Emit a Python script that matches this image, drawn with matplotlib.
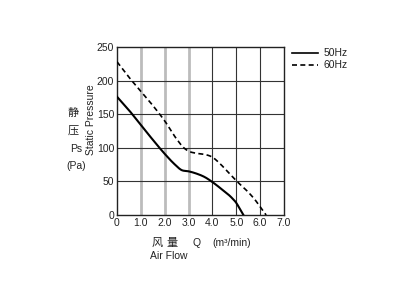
import matplotlib
matplotlib.use("Agg")
import matplotlib.pyplot as plt
import numpy as np

plt.rcParams['font.family'] = ['Liberation Sans', 'Noto Sans CJK SC', 'DejaVu Sans']

# data
q50 = [0.0, 0.5, 1.0, 1.5, 2.0, 2.4, 2.7, 3.0, 3.3, 3.7, 4.0, 4.4, 4.8, 5.0, 5.15, 5.3]
p50 = [176, 156, 134, 112, 91, 76, 67, 65, 62, 56, 49, 38, 26, 18, 9, 0]
q60 = [0.0, 0.5, 1.0, 1.5, 2.0, 2.5, 2.8, 3.0, 3.3, 3.7, 4.0, 4.3, 4.6, 5.0, 5.5, 5.8, 6.0, 6.25]
p60 = [228, 205, 184, 163, 140, 113, 100, 95, 92, 90, 86, 77, 66, 51, 34, 22, 12, 0]
xticks = [0, 1, 2, 3, 4, 5, 6, 7]
xticklabels = ["0", "1.0", "2.0", "3.0", "4.0", "5.0", "6.0", "7.0"]
yticks = [0, 50, 100, 150, 200, 250]

fig = plt.figure(figsize=(4.14, 3.03), dpi=100)
ax = fig.add_axes([117/414, 1-215/303, (284-117)/414, (215-47)/303])

def smooth(x, y, n=300):
    x = np.asarray(x, float); y = np.asarray(y, float)
    t = np.linspace(x[0], x[-1], n)
    m = np.gradient(y, x)
    out = np.empty_like(t)
    for i, tt in enumerate(t):
        k = min(np.searchsorted(x, tt, side='right') - 1, len(x) - 2)
        h = x[k+1] - x[k]
        s = (tt - x[k]) / h
        h00 = 2*s**3 - 3*s**2 + 1; h10 = s**3 - 2*s**2 + s
        h01 = -2*s**3 + 3*s**2; h11 = s**3 - s**2
        out[i] = h00*y[k] + h10*h*m[k] + h01*y[k+1] + h11*h*m[k+1]
    return t, out

for xv in [1, 2, 3]:
    ax.axvline(xv, color='#bcbcbc', lw=2.0, zorder=1)
for xv in [4, 5, 6]:
    ax.axvline(xv, color='#333333', lw=0.8, zorder=1)
for yv in [50, 100, 150, 200]:
    ax.axhline(yv, color='#333333', lw=0.8, zorder=1)

x1, y1 = smooth(q50, p50)
x2, y2 = smooth(q60, p60)
ax.plot(x1, y1, color='black', lw=1.5, zorder=3)
ax.plot(x2, y2, color='black', lw=1.2, ls=(0, (3, 2)), zorder=3)

ax.set_xlim(0, 7)
ax.set_ylim(0, 250)
ax.set_xticks(xticks)
ax.set_xticklabels(xticklabels)
ax.set_yticks(yticks)
ax.tick_params(length=0, labelsize=7.5, pad=2, colors='#222222')
for s in ax.spines.values():
    s.set_linewidth(1.0)
    s.set_color('#222222')

# legend outside
fig.add_artist(plt.Line2D([292/414, 318/414], [1-53/303, 1-53/303], color='black', lw=1.2))
fig.add_artist(plt.Line2D([292/414, 318/414], [1-65/303, 1-65/303], color='black', lw=1.2, ls=(0, (3, 2))))
fig.text(324/414, 1-53/303, "50Hz", fontsize=7.5, va='center', ha='left', color='#222222')
fig.text(324/414, 1-65/303, "60Hz", fontsize=7.5, va='center', ha='left', color='#222222')

# y labels
fig.text(73/414, 1-113/303, "静", fontsize=8, ha='center', va='center', family=['Noto Sans CJK SC'], color='#222222')
fig.text(73/414, 1-131/303, "压", fontsize=8, ha='center', va='center', family=['Noto Sans CJK SC'], color='#222222')
fig.text(76/414, 1-149/303, "Ps", fontsize=7.5, ha='center', va='center', color='#222222')
fig.text(76/414, 1-166/303, "(Pa)", fontsize=7.5, ha='center', va='center', color='#222222')
fig.text(91/414, 1-120/303, "Static Pressure", fontsize=7.5, rotation=90, ha='center', va='center', color='#222222')

# x labels
fig.text(157/414, 1-243/303, "风", fontsize=8, ha='center', va='center', family=['Noto Sans CJK SC'], color='#222222')
fig.text(172/414, 1-243/303, "量", fontsize=8, ha='center', va='center', family=['Noto Sans CJK SC'], color='#222222')
fig.text(197/414, 1-243/303, "Q", fontsize=7.5, ha='center', va='center', color='#222222')
fig.text(232/414, 1-243/303, "(m³/min)", fontsize=7.5, ha='center', va='center', color='#222222')
fig.text(169/414, 1-256/303, "Air Flow", fontsize=7.5, ha='center', va='center', color='#222222')

fig.savefig("out.png", dpi=100)
